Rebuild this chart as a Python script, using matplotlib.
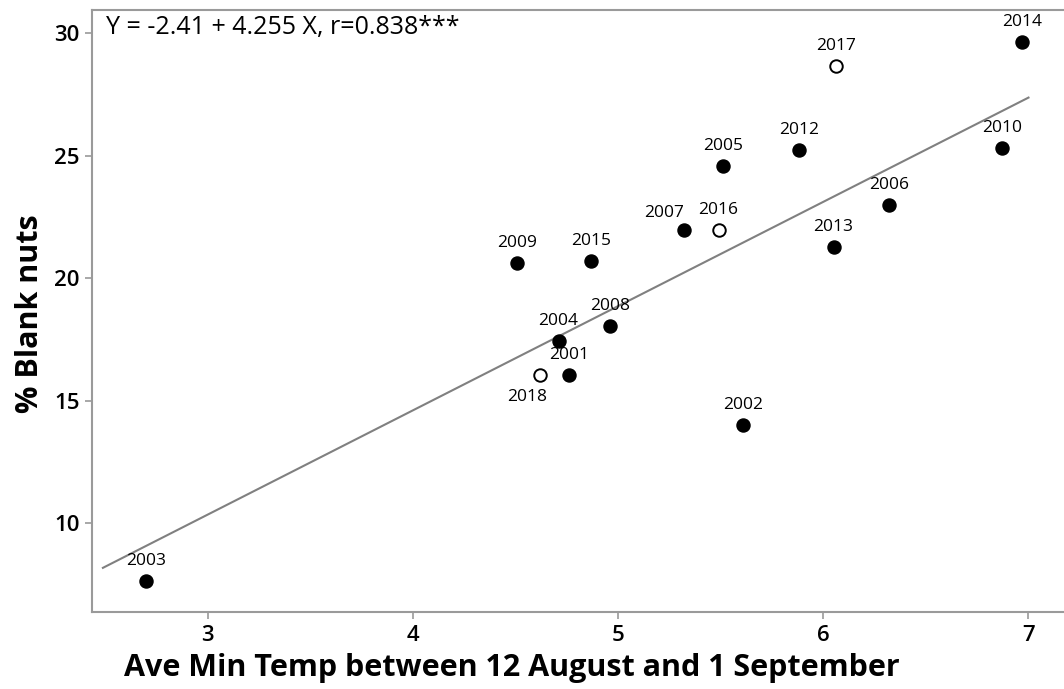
import matplotlib
matplotlib.use('Agg')
import matplotlib.pyplot as plt

# --- DATA ---
years = ['2001', '2002', '2003', '2004', '2005', '2006', '2007', '2008', '2009',
         '2010', '2012', '2013', '2014', '2015', '2016', '2017', '2018']
temp = [4.76, 5.61, 2.70, 4.71, 5.51, 6.32, 5.32, 4.96, 4.51,
        6.87, 5.88, 6.05, 6.97, 4.87, 5.49, 6.06, 4.62]
blank = [16.05, 14.01, 7.66, 17.44, 24.60, 22.98, 21.98, 18.05, 20.61,
         25.33, 25.25, 21.28, 29.64, 20.69, 21.98, 28.68, 16.05]
hollow = ['2016', '2017', '2018']

intercept = -2.41
slope = 4.255
fit_x = [2.49, 7.0]
equation = 'Y = -2.41 + 4.255 X, r=0.838***'

# label offsets in pixels (default is straight above)
label_offsets = {'2007': (-20, 17), '2018': (-13, -22)}

plt.rcParams['font.family'] = ['Open Sans', 'DejaVu Sans']

fig = plt.figure(figsize=(10.64, 6.89), dpi=100)
ax = fig.add_axes([0.0867, 0.1113, 0.9133, 0.8742])

grey = '#9a9a9a'

# fitted line
fit_y = [intercept + slope * v for v in fit_x]
ax.plot(fit_x, fit_y, color='#808080', linewidth=1.5, zorder=2)

for yr, xv, yv in zip(years, temp, blank):
    if yr in hollow:
        ax.plot(xv, yv, 'o', markersize=9.0, markerfacecolor='white',
                markeredgecolor='black', markeredgewidth=1.4, zorder=3)
    else:
        ax.plot(xv, yv, 'o', markersize=9.4, color='black', zorder=3)
    dx, dy = label_offsets.get(yr, (0, 20))
    ax.annotate(yr, (xv, yv), xytext=(dx, dy), textcoords='offset pixels',
                ha='center', va='center', fontsize=12.5, color='black', zorder=4)

ax.text(0.014, 0.971, equation, transform=ax.transAxes, fontsize=18,
        ha='left', va='center')

ax.set_xlim(2.438, 7.173)
ax.set_ylim(6.37, 30.95)
ax.set_xticks([3, 4, 5, 6, 7])
ax.set_yticks([10, 15, 20, 25, 30])

for side in ['left', 'bottom', 'top']:
    ax.spines[side].set_color(grey)
    ax.spines[side].set_linewidth(1.5)
ax.spines['right'].set_visible(False)

ax.tick_params(axis='both', direction='out', length=5, width=1.2, color=grey,
               labelsize=16, pad=4)
for lbl in ax.get_xticklabels() + ax.get_yticklabels():
    lbl.set_fontweight('semibold')

ax.set_xlabel('Ave Min Temp between 12 August and 1 September',
              fontsize=22, fontweight='bold')
ax.set_ylabel('% Blank nuts', fontsize=22, fontweight='bold')
ax.xaxis.label.set_va('center')
ax.yaxis.label.set_va('center')
ax.xaxis.set_label_coords((512 - 92.3) / 971.7, -(668 - 612.3) / 602.3)
ax.yaxis.set_label_coords(-(92.3 - 30) / 971.7, (612.3 - 314) / 602.3)

fig.savefig('out.png', dpi=100)
